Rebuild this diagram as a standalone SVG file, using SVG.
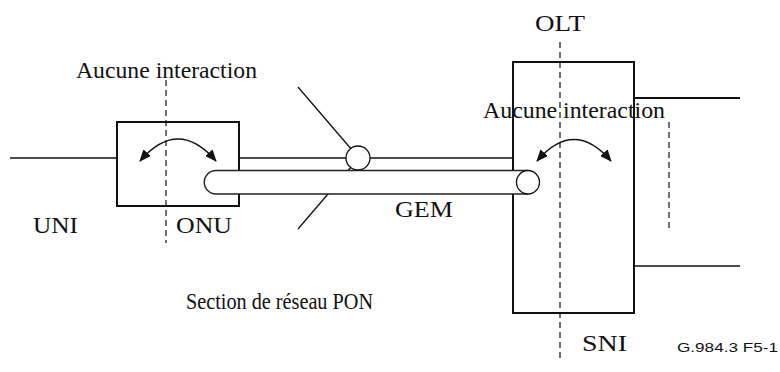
<svg xmlns="http://www.w3.org/2000/svg" width="780" height="372" viewBox="0 0 780 372">
<defs>
<style>
.lbl{font-family:"Liberation Serif","Times New Roman",serif;font-size:24px;fill:#111}
.ref{font-family:"Liberation Sans",Arial,sans-serif;font-size:13px;fill:#111}
.box{fill:#fff;stroke:#111;stroke-width:2}
.ln{fill:none;stroke:#111;stroke-width:1.3}
.dash{fill:none;stroke:#111;stroke-width:1.2;stroke-dasharray:6 4}
.arc{fill:none;stroke:#111;stroke-width:1.3}
.tube{fill:#fff;stroke:#222;stroke-width:1.4}
</style>
<marker id="ah" viewBox="0 0 12 10" refX="11" refY="5" markerWidth="12" markerHeight="10" markerUnits="userSpaceOnUse" orient="auto-start-reverse">
<path d="M0,0 L12,5 L0,10 Z" fill="#111"/>
</marker>
</defs>
<rect width="780" height="372" fill="#fff"/>

<g id="connectors">
<line class="ln" x1="10" y1="158" x2="117" y2="158"/>
<line class="ln" x1="239" y1="158" x2="513" y2="158"/>
<line class="ln" x1="298" y1="87" x2="352" y2="150"/>
<line class="ln" x1="298" y1="229" x2="352" y2="166"/>
<line class="ln" x1="634" y1="98" x2="740" y2="98" style="stroke-width:2"/>
<line class="ln" x1="634" y1="266" x2="740" y2="266"/>
</g>

<g id="onu">
<rect class="box" x="117" y="122" width="122" height="84"/>
<path class="arc" d="M 140 161 Q 178 117 216 161" marker-start="url(#ah)" marker-end="url(#ah)"/>
</g>

<g id="olt">
<rect class="box" x="513" y="62" width="121" height="251"/>
<path class="arc" d="M 537 161 Q 574 118 611 161" marker-start="url(#ah)" marker-end="url(#ah)"/>
</g>

<g id="splitter">
<circle cx="358" cy="158" r="12" fill="#fff" stroke="#111" stroke-width="1.3"/>
</g>

<g id="gem">
<path class="tube" d="M 528 170.5 H 216 A 11.75 11.75 0 0 0 216 194 H 528"/>
<ellipse cx="528" cy="182.25" rx="11.5" ry="11.75" fill="#fff" stroke="#111" stroke-width="1.3"/>
</g>

<g id="boundaries">
<line class="dash" x1="166" y1="80" x2="166" y2="243"/>
<line class="dash" x1="560" y1="42" x2="560" y2="358"/>
<line class="dash" x1="669" y1="122" x2="669" y2="230"/>
</g>

<g id="labels">
<text class="lbl" x="535" y="31" textLength="50" lengthAdjust="spacingAndGlyphs">OLT</text>
<text class="lbl" x="76" y="78" textLength="181" lengthAdjust="spacingAndGlyphs">Aucune interaction</text>
<text class="lbl" x="483" y="118" textLength="182" lengthAdjust="spacingAndGlyphs">Aucune interaction</text>
<text class="lbl" x="33" y="233" textLength="45" lengthAdjust="spacingAndGlyphs">UNI</text>
<text class="lbl" x="176" y="233" textLength="56" lengthAdjust="spacingAndGlyphs">ONU</text>
<text class="lbl" x="395" y="217" textLength="58" lengthAdjust="spacingAndGlyphs">GEM</text>
<text class="lbl" x="186" y="309" textLength="187" lengthAdjust="spacingAndGlyphs">Section de réseau PON</text>
<text class="lbl" x="582" y="351" textLength="45" lengthAdjust="spacingAndGlyphs">SNI</text>
<text class="ref" x="677" y="352" textLength="101" lengthAdjust="spacingAndGlyphs">G.984.3  F5-1</text>
</g>
</svg>
